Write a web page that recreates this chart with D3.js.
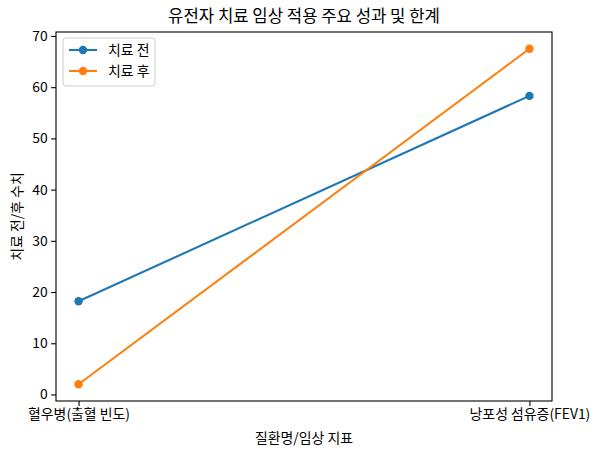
<!DOCTYPE html>
<html>
<head>
<meta charset="utf-8">
<script src="https://cdn.jsdelivr.net/npm/d3@7"></script>
<style>
  body { margin: 0; background: #fff; }
  text { font-family: "Noto Sans CJK KR", "Noto Sans", sans-serif; fill: #000; }
</style>
</head>
<body>
<div id="chart"></div>
<script>
var categories = ["혈우병(출혈 빈도)", "낭포성 섬유증(FEV1)"];
var seriesNames = ["치료 전", "치료 후"];
var beforeValues = [18.2, 58.3];
var afterValues = [2.0, 67.5];
var yTicks = [0, 10, 20, 30, 40, 50, 60, 70];
var colors = ["#1f77b4", "#ff7f0e"];

var margin = { top: 32, left: 56, right: 47, bottom: 55 },
    width = 599 - margin.left - margin.right,
    height = 456 - margin.top - margin.bottom;

var svg = d3.select("#chart")
  .append("svg")
  .attr("width", 599)
  .attr("height", 456)
  .append("g")
  .attr("transform", "translate(" + margin.left + "," + margin.top + ")");

var allVals = beforeValues.concat(afterValues);
var lo = d3.min(allVals), hi = d3.max(allVals), pad = (hi - lo) * 0.05;

var xScale = d3.scalePoint().domain(categories).range([0, width]).padding(0.05);
var yScale = d3.scaleLinear().domain([lo - pad, hi + pad]).range([height, 0]);

// axes
var xAxis = svg.append("g")
  .attr("transform", "translate(0," + height + ")")
  .call(d3.axisBottom(xScale).tickSize(4.9).tickPadding(3.5));
var yAxis = svg.append("g")
  .call(d3.axisLeft(yScale).tickValues(yTicks).tickSize(4.9).tickPadding(3.5));
[xAxis, yAxis].forEach(function(a) {
  a.select(".domain").remove();
  a.selectAll("line").attr("stroke", "#000").attr("stroke-width", 1.1);
  a.selectAll("text").style("font-size", "13.9px");
});

// frame
svg.append("rect")
  .attr("width", width).attr("height", height)
  .attr("fill", "none").attr("stroke", "#000").attr("stroke-width", 1.1);

var series = [beforeValues, afterValues];
var line = d3.line()
  .x(function(d, i) { return xScale(categories[i]); })
  .y(function(d) { return yScale(d); });

series.forEach(function(vals, s) {
  svg.append("path")
    .datum(vals)
    .attr("d", line)
    .attr("fill", "none")
    .attr("stroke", colors[s])
    .attr("stroke-width", 2.1);
  svg.selectAll(".pt" + s)
    .data(vals)
    .enter().append("circle")
    .attr("class", "pt" + s)
    .attr("cx", function(d, i) { return xScale(categories[i]); })
    .attr("cy", function(d) { return yScale(d); })
    .attr("r", 4.2)
    .attr("fill", colors[s]);
});

// title and labels
svg.append("text")
  .attr("x", width / 2).attr("y", -10)
  .attr("text-anchor", "middle")
  .style("font-size", "16.7px")
  .text("유전자 치료 임상 적용 주요 성과 및 한계");

svg.append("text")
  .attr("x", width / 2).attr("y", height + 42)
  .attr("text-anchor", "middle")
  .style("font-size", "13.9px")
  .text("질환명/임상 지표");

svg.append("text")
  .attr("transform", "translate(-34," + (height / 2) + ") rotate(-90)")
  .attr("text-anchor", "middle")
  .style("font-size", "13.9px")
  .text("치료 전/후 수치");

// legend
var legend = svg.append("g").attr("transform", "translate(7,6)");
legend.append("rect")
  .attr("width", 92).attr("height", 48).attr("rx", 3)
  .attr("fill", "#fff").attr("fill-opacity", 0.8)
  .attr("stroke", "#ccc").attr("stroke-width", 1);
seriesNames.forEach(function(name, i) {
  var y = 12 + i * 21;
  legend.append("line")
    .attr("x1", 6).attr("x2", 34).attr("y1", y).attr("y2", y)
    .attr("stroke", colors[i]).attr("stroke-width", 2.1);
  legend.append("circle")
    .attr("cx", 20).attr("cy", y).attr("r", 4.2).attr("fill", colors[i]);
  legend.append("text")
    .attr("x", 45).attr("y", y).attr("dy", "0.35em")
    .style("font-size", "13.9px")
    .text(name);
});
</script>
</body>
</html>
